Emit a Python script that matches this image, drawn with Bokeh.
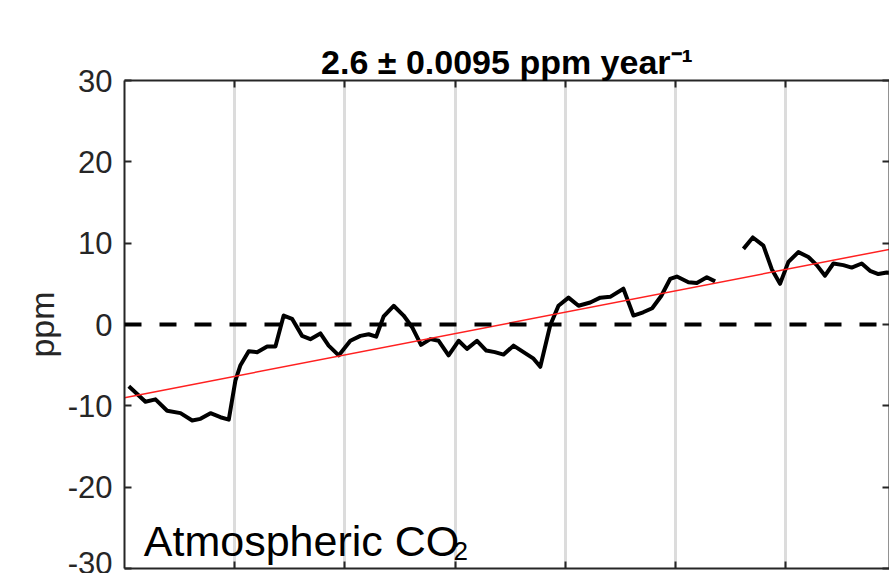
from bokeh.plotting import figure
from bokeh.models import Range1d, LinearAxis, FixedTicker, Span, Label, ColumnDataSource
from bokeh.embed import file_html
from bokeh.resources import INLINE

nan = float("nan")

# time in years since start of record
years = [0.039, 0.190, 0.281, 0.387, 0.508, 0.614, 0.689, 0.780, 0.870, 0.946,
         1.006, 1.052, 1.127, 1.203, 1.294, 1.369, 1.444, 1.520, 1.611, 1.686,
         1.777, 1.852, 1.943, 2.049, 2.140, 2.215, 2.283, 2.351, 2.442, 2.532,
         2.608, 2.690, 2.774, 2.850, 2.940, 3.031, 3.107, 3.198, 3.282, 3.360,
         3.439, 3.529, 3.620, 3.711, 3.772, 3.862, 3.937, 4.028, 4.119, 4.225,
         4.316, 4.406, 4.526, 4.617, 4.705, 4.787, 4.869, 4.950, 5.011, 5.116,
         5.192, 5.283, 5.358, 5.480, 5.615, 5.700, 5.796, 5.872, 5.947, 6.023,
         6.113, 6.204, 6.280, 6.355, 6.431, 6.521, 6.597, 6.688, 6.763, 6.839,
         6.915, 6.960]
# CO2 anomaly (ppm)
co2_anom = [-7.6, -9.5, -9.2, -10.6, -10.9, -11.8, -11.6, -10.9, -11.4, -11.7,
            -6.9, -5.0, -3.3, -3.4, -2.7, -2.7, 1.1, 0.7, -1.4, -1.8,
            -1.1, -2.6, -3.8, -2.0, -1.4, -1.2, -1.5, 1.0, 2.3, 1.1,
            -0.3, -2.5, -1.8, -2.0, -3.8, -2.0, -3.0, -2.0, -3.2, -3.4,
            -3.7, -2.6, -3.4, -4.2, -5.2, -0.1, 2.3, 3.3, 2.3, 2.7,
            3.3, 3.4, 4.4, 1.1, 1.5, 2.0, 3.5, 5.6, 5.9, 5.2,
            5.1, 5.8, 5.3, nan, 9.3, 10.7, 9.7, 6.8, 5.0, 7.7,
            8.9, 8.3, 7.3, 6.0, 7.5, 7.3, 7.0, 7.5, 6.6, 6.2,
            6.4, 6.3]

trend_x = [0.0, 7.0]
trend_y = [-9.0, 9.4]

grid_years = [1, 2, 3, 4, 5, 6]
y_ticks = [-30, -20, -10, 0, 10, 20, 30]

title_text = "2.6 \u00b1 0.0095 ppm year\u207b\u00b9"
y_label = "ppm"
panel_label = "Atmospheric CO"
panel_sub = "2"

FONT = "Liberation Sans"
AX = "#262626"

p = figure(width=889, height=573, output_backend="svg", toolbar_location=None,
           x_range=Range1d(0, 6.94), y_range=Range1d(-30, 30),
           min_border_left=124, min_border_right=0, min_border_top=80,
           min_border_bottom=5, title=title_text)
p.outline_line_color = None
p.background_fill_color = "white"
p.border_fill_color = "white"

p.title.align = "center"
p.title.text_font = FONT
p.title.text_font_size = "34px"
p.title.text_font_style = "bold"
p.title.text_color = "black"
p.title.standoff = 0

p.ygrid.visible = False
p.xgrid.ticker = FixedTicker(ticks=grid_years)
p.xgrid.grid_line_color = "#dcdcdc"
p.xgrid.grid_line_width = 3

def style_axis(ax, ticks, labels):
    ax.ticker = FixedTicker(ticks=ticks)
    ax.axis_line_color = AX
    ax.axis_line_width = 2
    ax.major_tick_line_color = AX
    ax.major_tick_line_width = 2
    ax.major_tick_in = 7
    ax.major_tick_out = 0
    ax.minor_tick_line_color = None
    if labels:
        ax.major_label_text_font = FONT
        ax.major_label_text_font_size = "31px"
        ax.major_label_text_color = AX
        ax.major_label_standoff = 12
        ax.major_label_overrides = {t: str(t) for t in ticks}
    else:
        ax.major_label_text_font_size = "1px"
        ax.major_label_text_color = None
        ax.major_label_standoff = 0

style_axis(p.xaxis[0], grid_years, False)
style_axis(p.yaxis[0], y_ticks, True)
p.yaxis[0].axis_label = y_label
p.yaxis[0].axis_label_text_font = FONT
p.yaxis[0].axis_label_text_font_size = "34px"
p.yaxis[0].axis_label_text_font_style = "normal"
p.yaxis[0].axis_label_text_color = AX
p.yaxis[0].axis_label_standoff = 4

top_axis = LinearAxis()
style_axis(top_axis, grid_years, False)
p.add_layout(top_axis, "above")
right_axis = LinearAxis()
style_axis(right_axis, y_ticks, False)
p.add_layout(right_axis, "right")

p.add_layout(Span(location=0, dimension="width", line_color="black",
                  line_width=4, line_dash="17 18"))

src = ColumnDataSource(dict(x=years, y=co2_anom))
p.line("x", "y", source=src, line_color="black", line_width=4, line_join="round")
p.line(trend_x, trend_y, line_color="#ff2020", line_width=1.5)

p.add_layout(Label(x=0.175, y=-26.6, text=panel_label, text_align="left",
                   text_baseline="alphabetic", text_font=FONT,
                   text_font_size="43px", text_color="black"))
p.add_layout(Label(x=2.985, y=-27.9, text=panel_sub, text_align="left",
                   text_baseline="alphabetic", text_font=FONT,
                   text_font_size="26px", text_color="black"))

open("out.html", "w").write(file_html(p, INLINE))
